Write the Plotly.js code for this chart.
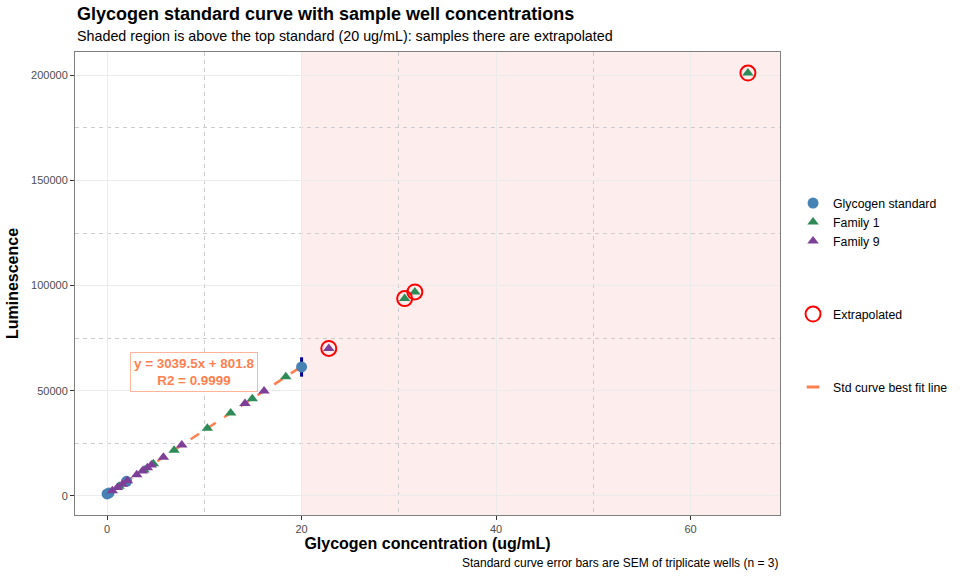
<!DOCTYPE html>
<html>
<head>
<meta charset="utf-8">
<script src="https://cdn.plot.ly/plotly-3.0.1.min.js"></script>
<style>
  html, body { margin: 0; padding: 0; background: #fff; }
  #plot { width: 960px; height: 576px; }
</style>
</head>
<body>
<div id="plot"></div>
<script>
// standards (mean of triplicate wells, SEM)
const stdConc = [0, 0.2, 2, 20];
const stdLum = [900, 1400, 6900, 61300];
const stdSem = [150, 200, 450, 4600];

// sample wells
const fam1Conc = [1.23, 3.8, 4.76, 6.89, 10.31, 12.71, 14.93, 18.38, 30.6, 31.65, 65.9];
const fam1Lum = [4540, 12350, 15270, 21740, 32140, 39430, 46180, 56670, 93810, 97000, 201100];
const fam9Conc = [0.54, 1.06, 1.57, 2.09, 3.05, 3.63, 4.14, 4.55, 5.79, 7.68, 14.18, 16.14, 22.8];
const fam9Lum = [2440, 4020, 5570, 7150, 10070, 11840, 13390, 14630, 18400, 24150, 43900, 49860, 70100];

// wells above the top standard
const extConc = [22.8, 30.6, 31.65, 65.9];
const extLum = [70100, 93810, 97000, 201100];

// best fit line ends
const fitConc = [0, 20];
const fitLum = [801.8, 61591.8];
const fitLabel = "y = 3039.5x + 801.8<br>R2 = 0.9999";

const topStd = 20;

const plotDiv = document.getElementById("plot");
const font = "Liberation Sans, Arial, sans-serif";
const coral = "#FF7F50";

const traces = [
  {
    x: fitConc, y: fitLum, type: "scatter", mode: "lines",
    line: { color: coral, width: 2.5, dash: "10px,10px" },
    showlegend: false, hoverinfo: "skip",
  },
  {
    x: stdConc, y: stdLum, type: "scatter", mode: "markers",
    name: "Glycogen standard", legendgroup: "pts",
    marker: { symbol: "circle", size: 11, color: "#4682B4" },
    error_y: { type: "data", array: stdSem, color: "#00008B", thickness: 3, width: 0 },
  },
  {
    x: fam1Conc, y: fam1Lum, type: "scatter", mode: "markers",
    name: "Family 1", legendgroup: "pts",
    marker: { symbol: "triangle-up", size: 10, color: "#2E8B57" },
  },
  {
    x: fam9Conc, y: fam9Lum, type: "scatter", mode: "markers",
    name: "Family 9", legendgroup: "pts",
    marker: { symbol: "triangle-up", size: 10, color: "#7E3F98" },
  },
  {
    x: extConc, y: extLum, type: "scatter", mode: "markers",
    name: "Extrapolated", legendgroup: "ext",
    marker: { symbol: "circle-open", size: 15, color: "#FF0000", line: { width: 2 } },
  },
  {
    // legend key for the fit line
    x: [null], y: [null], type: "scatter", mode: "markers",
    name: "Std curve best fit line", legendgroup: "fit",
    marker: { symbol: "line-ew", size: 9, line: { color: coral, width: 3 } },
  },
];

const axisCommon = {
  showline: true, mirror: true, linecolor: "#7f7f7f", linewidth: 1,
  ticks: "outside", ticklen: 4, tickcolor: "#333", tickwidth: 1,
  tickfont: { family: font, size: 11, color: "#4d4d4d" },
  showgrid: true, gridcolor: "#ebebeb", gridwidth: 1,
  zeroline: false,
};

const minorGrid = { showgrid: true, gridcolor: "#cccccc", griddash: "4px,4px", gridwidth: 1 };

const layout = {
  width: 960, height: 576,
  font: { family: font },
  paper_bgcolor: "#fff", plot_bgcolor: "#fff",
  margin: { l: 75, r: 180, t: 52, b: 61, autoexpand: false },
  xaxis: Object.assign({}, axisCommon, {
    range: [-3.3, 69.2], dtick: 20, tick0: 0,
    minor: Object.assign({ dtick: 10, tick0: 0 }, minorGrid),
    title: { text: "<b>Glycogen concentration (ug/mL)</b>", font: { family: font, size: 16, color: "#000" }, standoff: 2 },
  }),
  yaxis: Object.assign({}, axisCommon, {
    range: [-9100, 211100], dtick: 50000, tick0: 0, tickformat: "d",
    minor: Object.assign({ dtick: 25000, tick0: 0 }, minorGrid),
    title: { text: "<b>Luminescence</b>", font: { family: font, size: 16, color: "#000" }, standoff: 8 },
  }),
  shapes: [
    {
      type: "rect", xref: "x", yref: "paper", layer: "below",
      x0: topStd, x1: 69.2, y0: 0, y1: 1,
      fillcolor: "#fdeeed", line: { width: 0 },
    },
  ],
  annotations: [
    {
      xref: "paper", yref: "paper", x: 0, y: 1.082, xanchor: "left", yanchor: "middle",
      text: "<b>Glycogen standard curve with sample well concentrations</b>",
      showarrow: false, font: { family: font, size: 18, color: "#000" },
    },
    {
      xref: "paper", yref: "paper", x: 0, y: 1.035, xanchor: "left", yanchor: "middle",
      text: "Shaded region is above the top standard (20 ug/mL): samples there are extrapolated",
      showarrow: false, font: { family: font, size: 14.3, color: "#000" },
    },
    {
      xref: "paper", yref: "paper", x: 1, y: -0.104, xanchor: "right", yanchor: "middle",
      text: "Standard curve error bars are SEM of triplicate wells (n = 3)",
      showarrow: false, font: { family: font, size: 12, color: "#000" },
    },
    {
      xref: "x", yref: "y", x: 8.9, y: 58900,
      text: "<b>" + fitLabel + "</b>",
      showarrow: false, align: "center",
      font: { family: font, size: 13.4, color: coral },
      bgcolor: "#fff", bordercolor: "#FFB59A", borderwidth: 1, borderpad: 3,
    },
  ],
  legend: {
    x: 1.0185, y: 0.475, xanchor: "left", yanchor: "middle",
    font: { family: font, size: 12.3, color: "#000" },
    tracegroupgap: 54, itemwidth: 30, bgcolor: "rgba(0,0,0,0)",
  },
};

Plotly.newPlot(plotDiv, traces, layout, { displayModeBar: false, staticPlot: true });
</script>
</body>
</html>
